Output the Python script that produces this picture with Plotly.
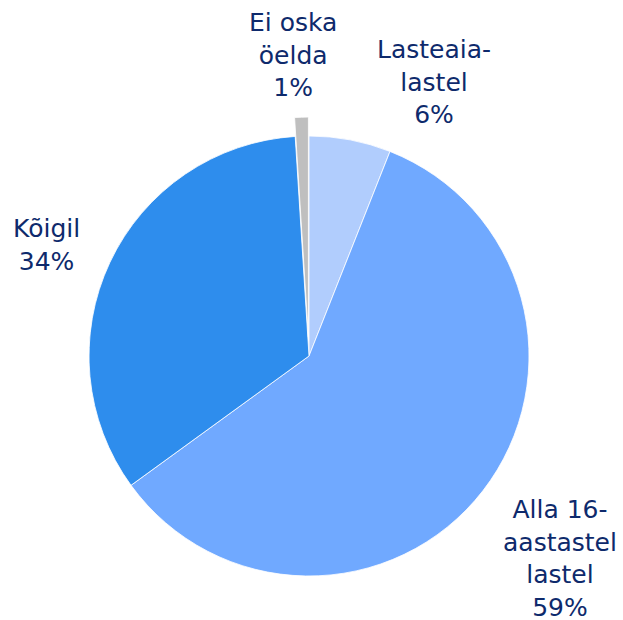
import plotly.graph_objects as go

# Survey answer shares (percent)
labels = ["Lasteaia-<br>lastel", "Alla 16-<br>aastastel<br>lastel", "Kõigil", "Ei oska<br>öelda"]
values = [6, 59, 34, 1]
colors = ["#b1cdfd", "#70a9ff", "#2e8ded", "#bfbfbf"]
pulls = [0, 0, 0, 0.086]

# Label anchor points (paper coordinates)
label_x = [0.697, 0.899, 0.075, 0.471]
label_y = [0.868, 0.100, 0.605, 0.911]

W, H = 623, 620
cx, cy, r = 309, 356, 220
half = r * (1 + max(pulls))

fig = go.Figure(go.Pie(
    labels=labels,
    values=values,
    sort=False,
    direction="clockwise",
    rotation=0,
    pull=pulls,
    marker=dict(colors=colors, line=dict(color="white", width=0.8)),
    textinfo="none",
    hoverinfo="label+percent",
    showlegend=False,
    domain=dict(x=[(cx - half) / W, (cx + half) / W],
                y=[(H - cy - half) / H, (H - cy + half) / H]),
))

for lab, v, x, y in zip(labels, values, label_x, label_y):
    fig.add_annotation(
        x=x, y=y, xref="paper", yref="paper",
        text=f"{lab}<br>{v}%",
        showarrow=False, align="center",
        xanchor="center", yanchor="middle",
        font=dict(family="DejaVu Sans, Verdana, sans-serif", size=25, color="#0e2a6c"),
    )

fig.update_layout(
    width=W, height=H,
    margin=dict(l=0, r=0, t=0, b=0),
    paper_bgcolor="white",
    plot_bgcolor="white",
)

fig.write_html("out.html")
